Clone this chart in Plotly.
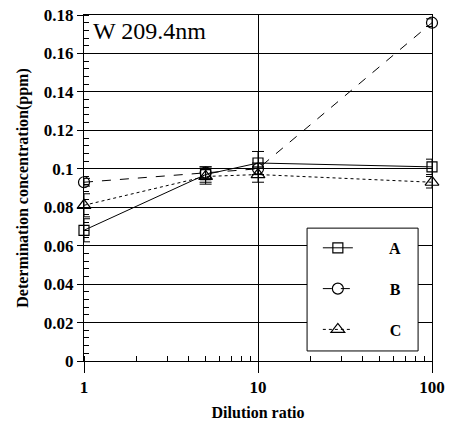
import plotly.graph_objects as go

dilution = [1, 5, 10, 100]
a_vals = [0.068, 0.097, 0.103, 0.101]
a_err = [0.006, 0.004, 0.006, 0.004]
b_vals = [0.093, 0.098, 0.100, 0.176]
b_err = [0.002, 0.003, 0.003, 0.002]
c_vals = [0.081, 0.096, 0.097, 0.093]
c_err = [0.006, 0.004, 0.004, 0.003]

FONT = "Liberation Serif"

fig = go.Figure()
series = [
    ("A", a_vals, a_err, "solid", "square-open", 10),
    ("B", b_vals, b_err, "dash", "circle-open", 11),
    ("C", c_vals, c_err, "dot", "triangle-up-open", 12),
]
for name, vals, err, dash, sym, size in series:
    fig.add_trace(go.Scatter(
        x=dilution, y=vals, name="        " + name, mode="lines+markers",
        legendgroup=name, cliponaxis=False,
        line=dict(color="black", width=1, dash=dash),
        marker=dict(symbol=sym, size=size, color="black", line=dict(width=1.2, color="black")),
        error_y=dict(type="data", array=err, visible=True, color="black", thickness=1, width=6),
    ))

fig.update_layout(
    width=450, height=423, autosize=False,
    margin=dict(l=84, r=18, t=15, b=62, autoexpand=False),
    paper_bgcolor="white", plot_bgcolor="white",
    font=dict(family=FONT, color="black", size=14),
    showlegend=True,
    legend=dict(
        x=0.672, y=0.376, xanchor="left", yanchor="top",
        bgcolor="rgba(0,0,0,0)", borderwidth=0,
        font=dict(family=FONT, size=16, color="black", weight="bold"),
        tracegroupgap=17,
        itemclick=False,
    ),
    shapes=[dict(
        type="rect", xref="paper", yref="paper",
        x0=0.641, x1=0.960, y0=0.029, y1=0.384,
        line=dict(color="black", width=1), fillcolor="white", layer="above",
    )],
    xaxis=dict(
        type="log", range=[0, 2], dtick=1, automargin=False,
        showline=True, linecolor="black", linewidth=1, mirror=True,
        showgrid=True, gridcolor="black", gridwidth=1,
        ticks="outside", ticklen=11, tickcolor="black",
        tickfont=dict(family=FONT, size=17, weight="bold"),
        minor=dict(ticks="inside", ticklen=5, tickcolor="black", dtick="D1", showgrid=False),
        title=dict(text="Dilution ratio", font=dict(family=FONT, size=16, weight="bold"), standoff=10),
        zeroline=False,
    ),
    yaxis=dict(
        range=[0, 0.18], dtick=0.02, tick0=0, automargin=False,
        showline=True, linecolor="black", linewidth=1, mirror=True,
        showgrid=True, gridcolor="black", gridwidth=1,
        ticks="outside", ticklen=6, tickcolor="black",
        tickfont=dict(family=FONT, size=17, weight="bold"),
        tickformat="~g",
        minor=dict(ticks="inside", ticklen=5, tickcolor="black", dtick=0.004, showgrid=False),
        title=dict(text="Determination concentration(ppm)", font=dict(family=FONT, size=16, weight="bold"), standoff=11),
        zeroline=False,
    ),
    annotations=[dict(
        text="W 209.4nm", x=0.02, y=0.955, xref="paper", yref="paper",
        xanchor="left", yanchor="middle", showarrow=False,
        font=dict(family=FONT, size=24, color="black"),
    )],
)

fig.write_html(
    "out.html",
    config={"displayModeBar": False},
    post_script="document.body.style.margin='0';document.body.style.overflow='hidden';",
)
